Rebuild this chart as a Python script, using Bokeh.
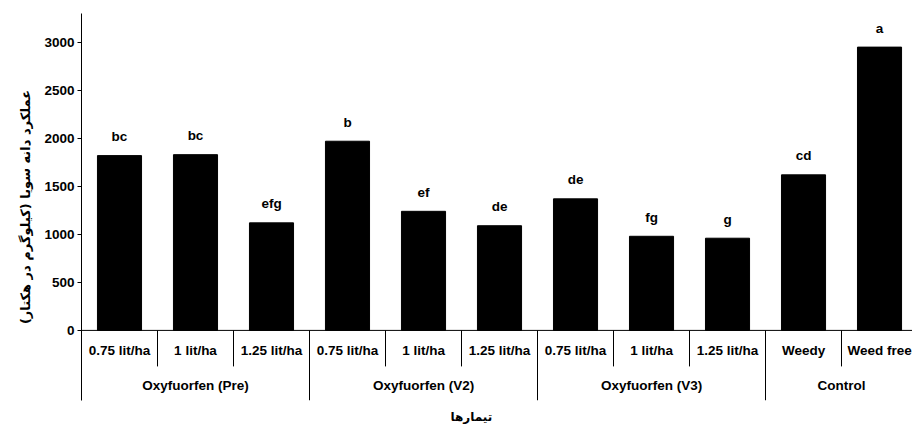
from bokeh.plotting import figure
from bokeh.models import Range1d, FixedTicker, Span, Title
from bokeh.core.properties import value
from bokeh.embed import file_html
from bokeh.resources import INLINE

# ---- data ----
doses = ["0.75 lit/ha", "1 lit/ha", "1.25 lit/ha",
         "0.75 lit/ha", "1 lit/ha", "1.25 lit/ha",
         "0.75 lit/ha", "1 lit/ha", "1.25 lit/ha",
         "Weedy", "Weed free"]
groups = ["Oxyfuorfen (Pre)", "Oxyfuorfen (V2)", "Oxyfuorfen (V3)", "Control"]
group_sizes = [3, 3, 3, 2]
yields = [1820, 1830, 1120, 1970, 1240, 1090, 1370, 980, 960, 1620, 2950]
letters = ["bc", "bc", "efg", "b", "ef", "de", "de", "fg", "g", "cd", "a"]
y_ticks = [0, 500, 1000, 1500, 2000, 2500, 3000]
y_title = "عملکرد دانه سویا (کیلوگرم در هکتار)"
x_title = "تیمارها"

FONT = "Liberation Sans"
FS = "13.5px"

n = len(doses)
centers = [i + 0.5 for i in range(n)]

# group geometry derived from group sizes
bounds = [0]
for s in group_sizes:
    bounds.append(bounds[-1] + s)
group_centers = [(bounds[k] + bounds[k + 1]) / 2 for k in range(len(groups))]
sub_seps = [i for i in range(1, n) if i not in bounds]
group_seps = [b for b in bounds[1:-1]]

Y_MIN, Y_MAX = -730, 3300
SUB_SEP_BOTTOM = -375

p = figure(width=912, height=432, output_backend="svg", toolbar_location=None,
           x_range=Range1d(0, 10.934), y_range=Range1d(Y_MIN, Y_MAX),
           min_border_left=81, min_border_top=13, min_border_bottom=32,
           min_border_right=0)
p.outline_line_color = None
p.grid.visible = False
p.xaxis.visible = False
p.background_fill_color = "white"
p.border_fill_color = "white"

ya = p.yaxis[0]
ya.ticker = FixedTicker(ticks=y_ticks)
ya.minor_tick_line_color = None
ya.major_tick_out = 4
ya.major_tick_in = 0
ya.major_label_standoff = 3
ya.axis_line_color = "black"
ya.major_tick_line_color = "black"
ya.major_label_text_font = FONT
ya.major_label_text_font_style = "bold"
ya.major_label_text_font_size = FS
ya.major_label_text_color = "black"
ya.axis_label = y_title
ya.axis_label_text_font = "DejaVu Sans"
ya.axis_label_text_font_style = "bold"
ya.axis_label_text_font_size = "13px"
ya.axis_label_standoff = 8
ya.axis_label_text_color = "black"

# bars
p.vbar(x=centers, top=yields, bottom=0, width=0.58, fill_color="black",
       line_color="black")

# significance letters
p.text(x=centers, y=yields, text=letters, y_offset=-19,
       text_align="center", text_baseline="middle",
       text_font=value(FONT), text_font_style="bold",
       text_font_size=FS, text_color="black")

# zero line
p.add_layout(Span(location=0, dimension="width", line_color="black",
                  line_width=1))

# dose labels
p.text(x=centers, y=[0] * n, text=doses, y_offset=20,
       text_align="center", text_baseline="middle",
       text_font=value(FONT), text_font_style="bold",
       text_font_size=FS, text_color="black")

# group labels
p.text(x=group_centers, y=[0] * len(groups), text=groups, y_offset=55,
       text_align="center", text_baseline="middle",
       text_font=value(FONT), text_font_style="bold",
       text_font_size=FS, text_color="black")

# separators
p.segment(x0=sub_seps, x1=sub_seps, y0=[0] * len(sub_seps),
          y1=[SUB_SEP_BOTTOM] * len(sub_seps), line_color="black",
          line_width=1)
p.segment(x0=group_seps, x1=group_seps, y0=[0] * len(group_seps),
          y1=[Y_MIN] * len(group_seps), line_color="black", line_width=1)

# x title (below the frame)
p.add_layout(Title(text=x_title, align="left", offset=369, standoff=15,
                   text_font="DejaVu Sans", text_font_style="bold",
                   text_font_size="12px", text_color="black"), "below")

open("out.html", "w").write(file_html(p, INLINE))
